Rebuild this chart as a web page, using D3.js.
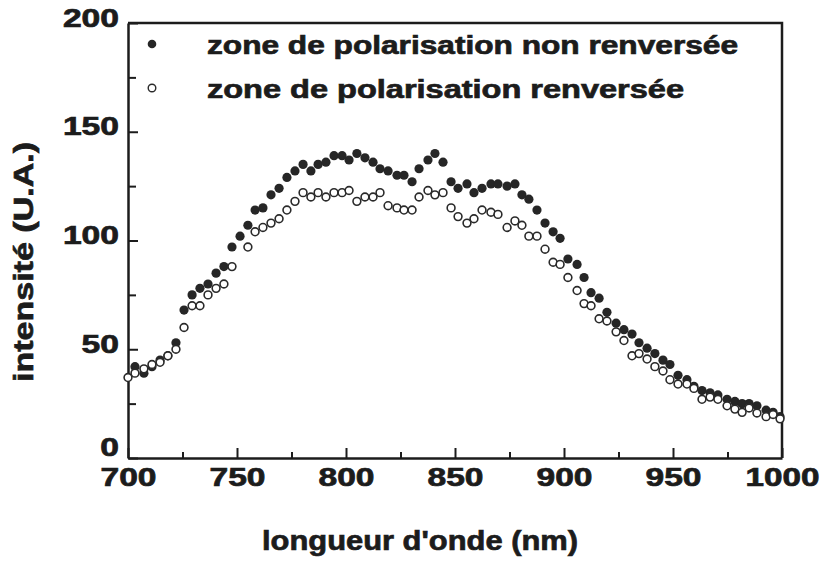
<!DOCTYPE html>
<html>
<head>
<meta charset="utf-8">
<script src="https://cdn.jsdelivr.net/npm/d3@7"></script>
<style>
  html, body { margin: 0; padding: 0; background: #fff; }
  svg { display: block; }
  text { font-family: "Liberation Sans", Arial, sans-serif; font-weight: bold; fill: #1c1c1c;
         stroke: #1c1c1c; stroke-width: 0.7px; }
</style>
</head>
<body>
<svg id="chart" width="821" height="563"></svg>
<script>
// Wavelength samples (nm)
const wavelength = [
  700.0, 703.2, 707.3, 711.0, 714.7, 718.3, 722.0, 725.7, 729.4, 733.0,
  736.7, 740.4, 744.0, 747.7, 751.4, 755.0, 758.3, 761.9, 765.6, 769.3,
  772.9, 776.6, 780.3, 783.9, 787.2, 790.8, 794.5, 798.2, 801.4, 805.0,
  808.7, 812.4, 815.6, 819.3, 823.4, 826.6, 830.3, 833.5, 837.6, 840.8,
  844.5, 848.2, 851.4, 855.5, 858.7, 862.4, 866.5, 869.7, 873.9, 877.5,
  880.7, 883.9, 887.6, 891.3, 895.0, 898.2, 901.8, 906.0, 909.2, 912.4,
  916.1, 919.7, 923.9, 927.5, 931.2, 934.4, 938.1, 941.7, 945.4, 948.6,
  952.3, 956.4, 959.6, 963.3, 967.0, 970.6, 974.8, 978.4, 981.7, 984.9,
  988.5, 992.7, 995.9, 999.1
];

// Intensity, non-reversed polarisation zone (filled markers)
const nonReversed = [
  null, 42, 39, 42, 45, 47, 53, 68, 75, 78,
  80, 85, 88, 97, 102, 107, 114, 115, 121, 124,
  129, 132, 135, 132, 135, 136, 139, 139, 137, 140,
  138, 136, 133, 132, 130, 130, 127, 133, 137, 140,
  136, 127, 124, 126, 122, 124, 126, 126, 125, 126,
  121, 119, 114, 108, 104, 101, 91.5, 89, 83, 76,
  73.5, 67, 62, 59, 57, 53, 50.5, 48, 45, 43,
  38, 36, 33, 31, 30, 29, 27, 26, 25, 25,
  24, 22, 21, 19
];

// Intensity, reversed polarisation zone (open markers)
const reversed = [
  37, 39, 41, 43, 44, 47, 50, 60, 70, 70,
  75, 78, 80, 88, null, 97, 104, 106, 108, 110,
  114, 118, 122, 120, 122, 120, 122, 122, 123, 118,
  120, 120, 122, 116, 115, 114, 114, 120, 123, 121,
  122, 115, 111, 108, 110, 114, 113, 112, 106, 109,
  107, 102, 102, 96, 90, 89, 83, 77, 71, 70,
  64, 63, 58, 54, 47, 48, 45.5, 42, 40, 36,
  34, 34, 32, 27, 28, 27, 24, 22.5, 21, 23,
  20.7, 19, 20, 18
];

const xMajorTicks = [700, 750, 800, 850, 900, 950, 1000];
const xMinorTicks = [725, 775, 825, 875, 925, 975];
const yMajorTicks = [0, 50, 100, 150, 200];
const yMinorTicks = [25, 75, 125, 175];

const legendLabels = ["zone de polarisation non renversée", "zone de polarisation renversée"];
const xTitle = "longueur d'onde (nm)";
const yTitle = "intensité (U.A.)";

const svg = d3.select("#chart");
const plotLeft = 128, plotRight = 782, plotTop = 23, plotBottom = 458;
const ink = "#1c1c1c";

const x = d3.scaleLinear().domain([700, 1000]).range([plotLeft, plotRight]);
const y = d3.scaleLinear().domain([0, 200]).range([plotBottom, plotTop]);

// Minor ticks (inward)
svg.append("g").attr("transform", `translate(0,${plotBottom})`)
  .call(d3.axisBottom(x).tickValues(xMinorTicks).tickSize(-6).tickFormat(""))
  .call(g => g.select(".domain").remove());
svg.append("g").attr("transform", `translate(${plotLeft},0)`)
  .call(d3.axisLeft(y).tickValues(yMinorTicks).tickSize(-8).tickFormat(""))
  .call(g => g.select(".domain").remove());

// Bottom axis with major ticks and labels
const xAxis = svg.append("g").attr("transform", `translate(0,${plotBottom})`)
  .call(d3.axisBottom(x).tickValues(xMajorTicks).tickSize(-10).tickSizeOuter(0).tickPadding(10)
    .tickFormat(d3.format("d")));
xAxis.selectAll("text")
  .attr("dy", "0.71em")
  .style("font-size", "25px")
  .attr("textLength", d => String(d).length === 4 ? 74 : 56)
  .attr("lengthAdjust", "spacingAndGlyphs");

// Left axis with major ticks and labels
const yAxis = svg.append("g").attr("transform", `translate(${plotLeft},0)`)
  .call(d3.axisLeft(y).tickValues(yMajorTicks).tickSize(-10).tickSizeOuter(0).tickPadding(9)
    .tickFormat(d3.format("d")));
yAxis.selectAll("text")
  .attr("dy", d => d === 0 ? "-0.1em" : "0.12em")
  .style("font-size", "25px")
  .attr("textLength", d => String(d).length * 18.7)
  .attr("lengthAdjust", "spacingAndGlyphs");

svg.selectAll(".tick line").attr("stroke", ink).attr("stroke-width", 2);
svg.selectAll(".domain").attr("stroke", ink).attr("stroke-width", 2.5);
svg.selectAll(".tick text").style("fill", ink);

// Frame: top and right edges
svg.append("path")
  .attr("d", `M${plotLeft},${plotTop}H${plotRight}V${plotBottom}`)
  .attr("fill", "none").attr("stroke", ink).attr("stroke-width", 2.5);

// Data: filled markers first, open markers on top
const ptsFilled = wavelength.map((w, i) => ({ w, v: nonReversed[i] })).filter(d => d.v != null);
const ptsOpen = wavelength.map((w, i) => ({ w, v: reversed[i] })).filter(d => d.v != null);

svg.append("g").selectAll("circle").data(ptsFilled).join("circle")
  .attr("cx", d => x(d.w)).attr("cy", d => y(d.v)).attr("r", 4.6)
  .attr("fill", "#262626");

svg.append("g").selectAll("circle").data(ptsOpen).join("circle")
  .attr("cx", d => x(d.w)).attr("cy", d => y(d.v)).attr("r", 3.9)
  .attr("fill", "#fff").attr("stroke", "#2a2a2a").attr("stroke-width", 1.6);

// Legend
const legend = svg.append("g");
legend.append("circle").attr("cx", 152).attr("cy", 44).attr("r", 4.3).attr("fill", "#262626");
legend.append("circle").attr("cx", 152).attr("cy", 88).attr("r", 3.8)
  .attr("fill", "#fff").attr("stroke", "#2a2a2a").attr("stroke-width", 1.4);
legend.append("text").attr("x", 207).attr("y", 54).style("font-size", "25px")
  .attr("textLength", 531).attr("lengthAdjust", "spacingAndGlyphs").text(legendLabels[0]);
legend.append("text").attr("x", 207).attr("y", 98).style("font-size", "25px")
  .attr("textLength", 477).attr("lengthAdjust", "spacingAndGlyphs").text(legendLabels[1]);

// Axis titles
svg.append("text").attr("x", 420).attr("y", 550).attr("text-anchor", "middle")
  .style("font-size", "27px").attr("textLength", 316).attr("lengthAdjust", "spacingAndGlyphs")
  .text(xTitle);
svg.append("text").attr("transform", "translate(33,262) rotate(-90)").attr("text-anchor", "middle")
  .style("font-size", "27px").attr("textLength", 240).attr("lengthAdjust", "spacingAndGlyphs")
  .text(yTitle);
</script>
</body>
</html>
